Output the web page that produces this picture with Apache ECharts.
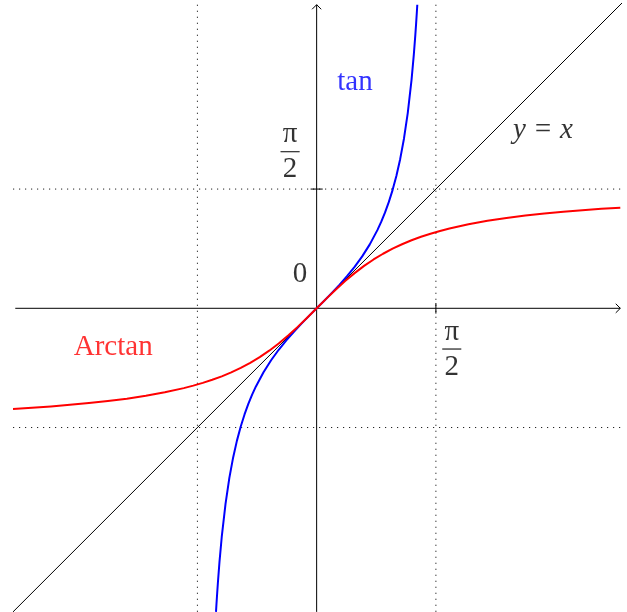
<!DOCTYPE html>
<html>
<head>
<meta charset="utf-8">
<script src="https://cdn.jsdelivr.net/npm/echarts@6/dist/echarts.min.js"></script>
<style>
  html, body { margin: 0; padding: 0; background: #fff; }
  #chart { width: 627px; height: 612px; }
</style>
</head>
<body>
<div id="chart"></div>
<script>
// plot window
var xRange = [-4, 4];
var yRange = [-4, 4];
var halfPi = 1.5708;

// tan(x), drawn for |y| <= 4
var tanX = [-1.3258, -1.32, -1.31, -1.3, -1.28, -1.25, -1.2, -1.15, -1.1, -1.05, -1.0, -0.95, -0.9, -0.85, -0.8, -0.7, -0.6, -0.5, -0.4, -0.3, -0.2, -0.1,
  0, 0.1, 0.2, 0.3, 0.4, 0.5, 0.6, 0.7, 0.8, 0.85, 0.9, 0.95, 1.0, 1.05, 1.1, 1.15, 1.2, 1.25, 1.28, 1.3, 1.31, 1.32, 1.3258];
var tanY = [-4.0, -3.9033, -3.7471, -3.6021, -3.3415, -3.0096, -2.5722, -2.2345, -1.9648, -1.7433, -1.5574, -1.3984, -1.2602, -1.1383, -1.0296, -0.8423, -0.6841, -0.5463, -0.4228, -0.3093, -0.2027, -0.1003,
  0, 0.1003, 0.2027, 0.3093, 0.4228, 0.5463, 0.6841, 0.8423, 1.0296, 1.1383, 1.2602, 1.3984, 1.5574, 1.7433, 1.9648, 2.2345, 2.5722, 3.0096, 3.3415, 3.6021, 3.7471, 3.9033, 4.0];

// arctan(x)
var atanX = [-4, -3.75, -3.5, -3.25, -3, -2.75, -2.5, -2.25, -2, -1.75, -1.625, -1.5, -1.375, -1.25, -1.125, -1, -0.875, -0.75, -0.625, -0.5, -0.375, -0.25, -0.125,
  0, 0.125, 0.25, 0.375, 0.5, 0.625, 0.75, 0.875, 1, 1.125, 1.25, 1.375, 1.5, 1.625, 1.75, 2, 2.25, 2.5, 2.75, 3, 3.25, 3.5, 3.75, 4];
var atanY = [-1.3258, -1.3102, -1.2925, -1.2723, -1.2490, -1.2220, -1.1903, -1.1526, -1.1071, -1.0517, -1.0191, -0.9828, -0.9420, -0.8961, -0.8442, -0.7854, -0.7188, -0.6435, -0.5586, -0.4636, -0.3588, -0.2450, -0.1244,
  0, 0.1244, 0.2450, 0.3588, 0.4636, 0.5586, 0.6435, 0.7188, 0.7854, 0.8442, 0.8961, 0.9420, 0.9828, 1.0191, 1.0517, 1.1071, 1.1526, 1.1903, 1.2220, 1.2490, 1.2723, 1.2925, 1.3102, 1.3258];

// y = x (runs a little past the top-right corner)
var diagX = [-4, 4.12];
var diagY = [-4, 4.12];

// dotted guides at +-pi/2
var guideVals = [-halfPi, halfPi];

(function() {
  var chart = echarts.init(document.getElementById('chart'), null, { renderer: 'canvas' });
  var serif = '"Liberation Serif", "DejaVu Serif", serif';
  var ink = '#000';

  function pairs(xs, ys) {
    return xs.map(function(x, i) { return [x, ys[i]]; });
  }

  function seg(data, style, z) {
    return {
      type: 'line', data: data, symbol: 'none', silent: true, z: z || 2, clip: false,
      lineStyle: style
    };
  }

  var series = [];

  // dotted guide lines
  var dotted = { color: '#222', width: 1, type: [1.2, 4.8] };
  guideVals.forEach(function(v) {
    series.push(seg([[xRange[0], v], [xRange[1], v]], dotted, 1));
    series.push(seg([[v, yRange[0]], [v, yRange[1]]], dotted, 1));
  });

  // axes with open arrow heads
  var axisStyle = { color: ink, width: 1 };
  var ah = 0.06, aw = 0.06;
  series.push(seg([[xRange[0] + 0.03, 0], [xRange[1], 0]], axisStyle, 3));
  series.push(seg([[0, yRange[0]], [0, yRange[1]]], axisStyle, 3));
  series.push(seg([[xRange[1] - ah, aw], [xRange[1], 0], [xRange[1] - ah, -aw]], axisStyle, 3));
  series.push(seg([[-aw, yRange[1] - ah], [0, yRange[1]], [aw, yRange[1] - ah]], axisStyle, 3));

  // ticks at pi/2
  series.push(seg([[halfPi, -0.07], [halfPi, 0.07]], axisStyle, 3));
  series.push(seg([[-0.08, halfPi], [0.08, halfPi]], axisStyle, 3));

  // y = x
  series.push(seg(pairs(diagX, diagY), { color: ink, width: 1 }, 4));

  // tan
  series.push({
    type: 'line', data: pairs(tanX, tanY), symbol: 'none', z: 5,
    lineStyle: { color: '#0000ff', width: 2, join: 'round' }
  });

  // arctan
  series.push({
    type: 'line', data: pairs(atanX, atanY), symbol: 'none', z: 6,
    lineStyle: { color: '#ff0000', width: 2, join: 'round' }
  });

  // text annotations
  var frac = {
    n: { fontFamily: serif, fontSize: 29, lineHeight: 34, color: ink, align: 'center' },
    hr: { width: 19, height: 0, borderColor: ink, borderWidth: 0.8 },
    d: { fontFamily: serif, fontSize: 29, lineHeight: 36, color: ink, align: 'center' }
  };
  function txt(x, y, text, color, extra) {
    var label = { show: true, position: 'inside', formatter: text, color: color,
      fontFamily: serif, fontSize: 29, align: 'center', verticalAlign: 'middle' };
    for (var k in extra) label[k] = extra[k];
    return { value: [x, y], label: label };
  }
  series.push({
    type: 'scatter', symbolSize: 0, silent: true, z: 10,
    data: [
      txt(0.505, 2.98, 'tan', '#0000ff'),
      txt(-2.68, -0.51, 'Arctan', '#ff0000'),
      txt(2.98, 2.34, 'y = x', ink, { fontStyle: 'italic' }),
      txt(-0.22, 0.45, '0', ink),
      txt(-0.35, 2.05, '{n|π}\n{hr|}\n{d|2}', ink, { rich: frac }),
      txt(1.78, -0.55, '{n|π}\n{hr|}\n{d|2}', ink, { rich: frac })
    ]
  });

  chart.setOption({
    animation: false,
    grid: { left: 13, right: 6.7, top: 4.7, bottom: 0.1 },
    xAxis: { type: 'value', min: xRange[0], max: xRange[1], show: false },
    yAxis: { type: 'value', min: yRange[0], max: yRange[1], show: false },
    series: series
  });
  window.addEventListener('resize', function() { chart.resize(); });
})();
</script>
</body>
</html>
